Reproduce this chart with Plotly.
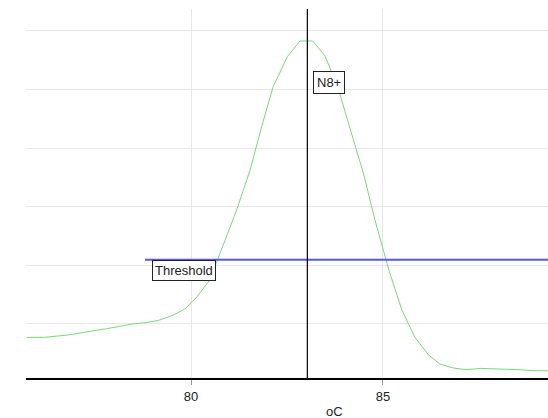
import plotly.graph_objects as go

# Melt curve data (temperature in oC, derivative signal in arbitrary units)
temps = [75.72, 76.15, 76.48, 76.80, 77.20, 77.46, 77.80, 78.13, 78.46, 78.80,
         79.15, 79.54, 79.84, 80.15, 80.49, 80.83, 81.19, 81.54, 81.84, 82.14,
         82.51, 82.84, 83.17, 83.49, 83.83, 84.14, 84.49, 84.79, 85.16, 85.49,
         85.83, 86.18, 86.48, 86.83, 87.18, 87.53, 87.87, 88.22, 88.57, 88.91,
         89.30]
signal = [0.766, 0.766, 0.787, 0.807, 0.852, 0.875, 0.915, 0.954, 0.995, 1.017,
          1.056, 1.148, 1.251, 1.456, 1.751, 2.331, 2.945, 3.628, 4.367, 5.050,
          5.561, 5.829, 5.829, 5.573, 5.027, 4.340, 3.572, 2.775, 1.904, 1.239,
          0.773, 0.471, 0.312, 0.244, 0.215, 0.237, 0.232, 0.215, 0.215, 0.198,
          0.198]

melt_temp = 83.03
melt_label = "N8+"
threshold_value = 2.092
threshold_start = 78.80
threshold_end = 89.30
threshold_label = "Threshold"
x_tick_vals = [80, 85]
x_title = "oC"

x_range = [75.70, 89.30]
y_range = [0.073, 6.375]

FONT = "Liberation Sans, Arial"

fig = go.Figure()

fig.add_trace(go.Scatter(
    x=temps, y=signal, mode="lines",
    line=dict(color="rgb(120,220,120)", width=1),
    hoverinfo="skip", showlegend=False,
))

fig.add_trace(go.Scatter(
    x=[threshold_start, threshold_end], y=[threshold_value, threshold_value],
    mode="lines", line=dict(color="rgb(85,85,255)", width=2),
    hoverinfo="skip", showlegend=False,
))

fig.add_shape(type="line", xref="x", yref="paper",
              x0=melt_temp, x1=melt_temp, y0=0, y1=1,
              line=dict(color="black", width=1.2))

fig.add_annotation(x=melt_temp, y=5.32, xref="x", yref="y",
                   text=melt_label, showarrow=False,
                   xanchor="left", yanchor="top", xshift=6,
                   font=dict(family=FONT, size=13, color="#222"),
                   bgcolor="white", bordercolor="#222", borderwidth=1, borderpad=3)

fig.add_annotation(x=threshold_start, y=threshold_value, xref="x", yref="y",
                   text=threshold_label, showarrow=False,
                   xanchor="left", yanchor="top", xshift=7,
                   font=dict(family=FONT, size=13, color="#222"),
                   bgcolor="white", bordercolor="#222", borderwidth=1, borderpad=2)

fig.add_annotation(x=0.591, y=-0.090, xref="paper", yref="paper",
                   text=x_title, showarrow=False,
                   xanchor="center", yanchor="middle",
                   font=dict(family=FONT, size=13, color="#222"))

fig.update_layout(
    width=548, height=418,
    margin=dict(l=26, r=0, t=9, b=40),
    paper_bgcolor="white", plot_bgcolor="white",
    font=dict(family=FONT, size=13, color="#222"),
    xaxis=dict(range=x_range, tickvals=x_tick_vals, showgrid=True,
               gridcolor="#e8e8e8", gridwidth=1,
               showline=True, linecolor="black", linewidth=2,
               ticks="outside", ticklen=5, tickcolor="#999", tickwidth=1,
               zeroline=False),
    yaxis=dict(range=y_range, tick0=0, dtick=1, showgrid=True,
               gridcolor="#e8e8e8", gridwidth=1,
               showticklabels=False, showline=False, zeroline=False, ticks=""),
)

fig.write_html("out.html",
               config={"responsive": False, "displayModeBar": False},
               post_script="document.body.style.margin='0';document.body.style.overflow='hidden';")
